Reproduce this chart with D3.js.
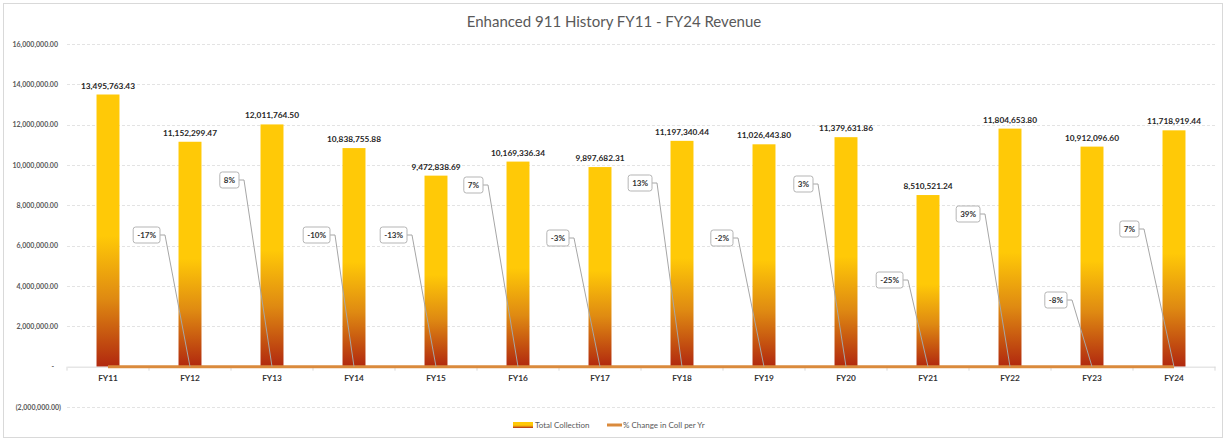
<!DOCTYPE html>
<html>
<head>
<meta charset="utf-8">
<script src="https://cdn.jsdelivr.net/npm/d3@7"></script>
<style>
  body { margin: 0; background: #fff; }
  svg { display: block; font-family: Lato, "Open Sans", sans-serif; }
</style>
</head>
<body>
<svg id="chart" width="1225" height="441"></svg>
<script>
// data
const years = ["FY11", "FY12", "FY13", "FY14", "FY15", "FY16", "FY17", "FY18", "FY19", "FY20", "FY21", "FY22", "FY23", "FY24"]
const totalCollection = [13495763.43, 11152299.47, 12011764.50, 10838755.88, 9472838.69, 10169336.34, 9897682.31,
    11197340.44, 11026443.80, 11379631.86, 8510521.24, 11804653.80, 10912096.60, 11718919.44]
const pctChange = [0, -0.17, 0.08, -0.10, -0.13, 0.07, -0.03, 0.13, -0.02, 0.03, -0.25, 0.39, -0.08, 0.07]
const pctText = [null, "-17%", "8%", "-10%", "-13%", "7%", "-3%", "13%", "-2%", "3%", "-25%", "39%", "-8%", "7%"]
const yTicks = [-2000000, 0, 2000000, 4000000, 6000000, 8000000, 10000000, 12000000, 14000000, 16000000]

// where the % callouts were dragged to (right edge offset from bar centre, centre y)
const calloutPlace = [null, [-30, 235], [-33, 180], [-24, 235], [-29, 235], [-35, 185], [-31, 238],
    [-30, 183], [-31, 238], [-33, 184], [-25, 280], [-30, 214], [-25, 300], [-35, 229]]

const svg = d3.select("#chart")

// chart border
svg.append("rect")
    .attr("x", 3.5).attr("y", 3.5)
    .attr("width", 1219).attr("height", 434)
    .attr("fill", "white")
    .attr("stroke", "#d9d9d9")

const defs = svg.append("defs")
const grad = defs.append("linearGradient")
    .attr("id", "barFill")
    .attr("x1", 0).attr("y1", 0).attr("x2", 0).attr("y2", 1)
grad.append("stop").attr("offset", "0%").attr("stop-color", "#ffc907")
grad.append("stop").attr("offset", "52%").attr("stop-color", "#ffc907")
grad.append("stop").attr("offset", "75%").attr("stop-color", "#df8a12")
grad.append("stop").attr("offset", "100%").attr("stop-color", "#b1280f")

const x = d3.scaleBand()
    .domain(years)
    .range([67, 1215])
    .paddingInner(0.72)
    .paddingOuter(0.36)

const y = d3.scaleLinear()
    .domain([-2000000, 16000000])
    .range([407, 44])

const cx = d => x(d) + x.bandwidth() / 2

// title
svg.append("text")
    .attr("x", 614).attr("y", 27)
    .attr("text-anchor", "middle")
    .attr("font-size", 15)
    .attr("fill", "#595959")
    .text("Enhanced 911 History FY11 - FY24 Revenue")

// gridlines
svg.append("g")
    .selectAll("line")
    .data(yTicks.filter(d => d !== 0))
    .join("line")
        .attr("x1", 67).attr("x2", 1215)
        .attr("y1", d => Math.round(y(d)) + 0.5)
        .attr("y2", d => Math.round(y(d)) + 0.5)
        .attr("stroke", "#e3e3e3")
        .attr("stroke-dasharray", "3,2")

// y axis labels (accounting style)
const fmt = d3.format(",.2f")
svg.append("g")
    .selectAll("text")
    .data(yTicks)
    .join("text")
        .attr("x", d => d < 0 ? 61 : (d === 0 ? 54 : 58))
        .attr("y", d => y(d) + 2.5)
        .attr("text-anchor", "end")
        .attr("font-size", 7)
        .attr("font-weight", "bold")
        .attr("fill", "#595959")
        .text(d => d === 0 ? "-" : (d < 0 ? "(" + fmt(-d) + ")" : fmt(d)))

// bars
svg.append("g")
    .selectAll("rect")
    .data(years)
    .join("rect")
        .attr("x", d => x(d))
        .attr("width", x.bandwidth())
        .attr("y", (d, i) => y(totalCollection[i]))
        .attr("height", (d, i) => y(0) - y(totalCollection[i]))
        .attr("fill", "url(#barFill)")

// value labels
svg.append("g")
    .selectAll("text")
    .data(years)
    .join("text")
        .attr("x", d => cx(d))
        .attr("y", (d, i) => y(totalCollection[i]) - 6)
        .attr("text-anchor", "middle")
        .attr("font-size", 8.3)
        .attr("font-weight", "bold")
        .attr("fill", "#262626")
        .text((d, i) => fmt(totalCollection[i]))

// x axis: line, ticks between categories, labels
const xAxis = svg.append("g")
    .attr("transform", `translate(0,${y(0)})`)
    .call(d3.axisBottom(x).tickSize(0).tickPadding(8))
xAxis.select(".domain").attr("stroke", "#d9d9d9")
xAxis.selectAll("text")
    .attr("font-size", 8.3)
    .attr("font-weight", "bold")
    .attr("font-family", "Lato, sans-serif")
    .attr("fill", "#333")
xAxis.selectAll(".boundary")
    .data(d3.range(years.length + 1))
    .join("line")
        .attr("class", "boundary")
        .attr("x1", i => 67 + i * x.step())
        .attr("x2", i => 67 + i * x.step())
        .attr("y1", 0).attr("y2", 4)
        .attr("stroke", "#d9d9d9")

// % change line (sits on the zero line at this scale)
const line = d3.line()
    .x((d, i) => cx(years[i]))
    .y(d => y(d))
svg.append("path")
    .datum(pctChange)
    .attr("d", line)
    .attr("fill", "none")
    .attr("stroke", "#da8a3c")
    .attr("stroke-width", 3)

// callouts with leader lines
const callouts = svg.append("g")
    .selectAll("g")
    .data(years.map((d, i) => ({ year: d, i })).filter(d => pctText[d.i]))
    .join("g")

callouts.append("polyline")
    .attr("points", d => {
        const p = calloutPlace[d.i]
        const right = cx(d.year) + p[0]
        return [[right, p[1]], [right + 5, p[1]], [cx(d.year), y(pctChange[d.i])]].join(" ")
    })
    .attr("fill", "none")
    .attr("stroke", "#a6a6a6")
    .attr("stroke-width", 1)

callouts.each(function(d) {
    const g = d3.select(this)
    const p = calloutPlace[d.i]
    const right = cx(d.year) + p[0]
    const t = g.append("text")
        .attr("font-size", 8)
        .attr("font-weight", "bold")
        .attr("fill", "#333")
        .attr("text-anchor", "end")
        .attr("x", right - 4)
        .attr("y", p[1] + 3)
        .text(pctText[d.i])
    const w = t.node().getComputedTextLength()
    g.insert("rect", "text")
        .attr("x", right - w - 8)
        .attr("y", p[1] - 8)
        .attr("width", w + 8)
        .attr("height", 16)
        .attr("rx", 2.5)
        .attr("fill", "white")
        .attr("stroke", "#b5b5b5")
})

// legend
const legend = svg.append("g")
legend.append("rect")
    .attr("x", 513).attr("y", 422)
    .attr("width", 20).attr("height", 6)
    .attr("fill", "url(#barFill)")
legend.append("text")
    .attr("x", 535).attr("y", 428)
    .attr("font-size", 8)
    .attr("fill", "#595959")
    .text("Total Collection")
legend.append("line")
    .attr("x1", 607).attr("x2", 622)
    .attr("y1", 425).attr("y2", 425)
    .attr("stroke", "#da8a3c")
    .attr("stroke-width", 3)
legend.append("text")
    .attr("x", 623).attr("y", 428)
    .attr("font-size", 8)
    .attr("fill", "#595959")
    .text("% Change in Coll per Yr")
</script>
</body>
</html>
